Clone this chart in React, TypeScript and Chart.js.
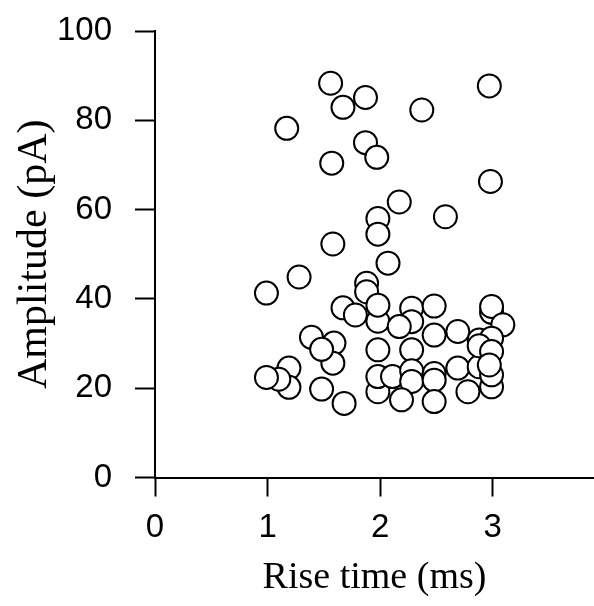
import React, { useEffect, useRef } from "react";
import { Chart, registerables } from "chart.js";

Chart.register(...registerables);

const xTitle = "Rise time (ms)";
const yTitle = "Amplitude (pA)";
const xTickValues = [0, 1, 2, 3];
const yTickValues = [0, 20, 40, 60, 80, 100];

const riseTime = [
  1.56, 1.67, 1.87, 2.37, 2.97, 1.17, 1.87, 1.97, 1.57, 2.98,
  2.17, 2.58, 1.98, 1.98, 1.58, 2.07, 1.28, 0.99, 1.88, 1.88,
  1.67, 1.78, 1.98, 1.98, 2.28, 2.28, 2.48, 2.17, 2.48, 2.69,
  2.99, 2.99, 3.09, 2.88, 2.99, 1.39, 1.59, 1.58, 1.48, 1.98,
  2.28, 1.19, 1.19, 1.10, 0.99, 1.48, 1.68, 1.98, 1.98, 2.11,
  2.28, 2.28, 2.48, 2.48, 2.48, 2.19, 2.78, 2.69, 2.88, 2.99,
  2.99, 2.88, 2.99, 2.97,
];

const amplitude = [
  88.3, 82.9, 85.1, 82.3, 87.7, 78.2, 75.0, 71.7, 70.4, 66.3,
  61.7, 58.4, 58.0, 54.5, 52.3, 48.0, 44.9, 41.3, 43.5, 41.6,
  38.0, 36.4, 35.0, 38.6, 37.9, 34.9, 38.4, 33.8, 31.9, 32.7,
  37.0, 38.3, 34.2, 30.8, 31.2, 31.4, 30.1, 25.6, 28.7, 28.6,
  28.6, 24.5, 20.2, 22.0, 22.4, 19.8, 16.6, 19.2, 22.6, 22.6,
  23.9, 21.5, 23.3, 21.8, 17.0, 17.4, 19.2, 24.5, 24.8, 20.3,
  23.0, 29.5, 28.2, 25.2,
];

export default function App() {
  const canvasRef = useRef<HTMLCanvasElement | null>(null);

  useEffect(() => {
    const canvas = canvasRef.current;
    if (!canvas) return;
    const points = riseTime.map((x, i) => ({ x, y: amplitude[i] }));
    const tickFont = { family: "'Liberation Sans', Arial, sans-serif", size: 33 };
    const zeroPad = (scale: any) => {
      scale.paddingTop = 0;
      scale.paddingBottom = 0;
      scale.paddingLeft = 0;
      scale.paddingRight = 0;
    };
    const chart = new Chart(canvas, {
      type: "scatter",
      data: {
        datasets: [
          {
            data: points,
            pointRadius: 11.5,
            pointHoverRadius: 11.5,
            pointBorderWidth: 2,
            pointBackgroundColor: "#ffffff",
            pointBorderColor: "#000000",
            clip: false,
          },
        ],
      },
      options: {
        animation: false,
        responsive: false,
        devicePixelRatio: 1,
        events: [],
        layout: { autoPadding: false, padding: { top: 31, left: 0, right: 0, bottom: 0 } },
        plugins: {
          legend: { display: false },
          tooltip: { enabled: false },
        },
        scales: {
          x: {
            type: "linear",
            min: 0,
            max: 3.9,
            afterBuildTicks: (scale: any) => {
              scale.ticks = xTickValues.map((v) => ({ value: v }));
            },
            afterFit: (scale: any) => {
              scale.height = 128.5;
              zeroPad(scale);
            },
            grid: {
              drawOnChartArea: false,
              drawTicks: true,
              tickLength: 19,
              tickWidth: 2,
              tickColor: "#000",
            },
            border: { display: true, color: "#000", width: 2 },
            ticks: {
              color: "#000",
              font: tickFont,
              padding: 12,
              maxRotation: 0,
              autoSkip: false,
            },
            title: {
              display: true,
              text: xTitle,
              color: "#000",
              font: { family: "'Liberation Serif', 'Times New Roman', serif", size: 38, lineHeight: 1 },
              padding: { top: 0, bottom: 9 },
            },
          },
          y: {
            type: "linear",
            min: 0,
            max: 100,
            afterBuildTicks: (scale: any) => {
              scale.ticks = yTickValues.map((v) => ({ value: v }));
            },
            afterFit: (scale: any) => {
              scale.width = 155;
              zeroPad(scale);
            },
            grid: {
              drawOnChartArea: false,
              drawTicks: true,
              tickLength: 20,
              tickWidth: 2,
              tickColor: "#000",
            },
            border: { display: true, color: "#000", width: 2 },
            ticks: {
              color: "#000",
              font: tickFont,
              padding: 23,
              autoSkip: false,
            },
            title: {
              display: true,
              text: yTitle,
              color: "#000",
              font: { family: "'Liberation Serif', 'Times New Roman', serif", size: 42, lineHeight: 1 },
              padding: { top: 14, bottom: 0 },
            },
          },
        },
      },
    });
    return () => chart.destroy();
  }, []);

  return (
    <div style={{ position: "absolute", left: 0, top: 0, width: 594, height: 606, background: "#fff" }}>
      <canvas ref={canvasRef} width={594} height={606} style={{ display: "block" }} />
    </div>
  );
}
